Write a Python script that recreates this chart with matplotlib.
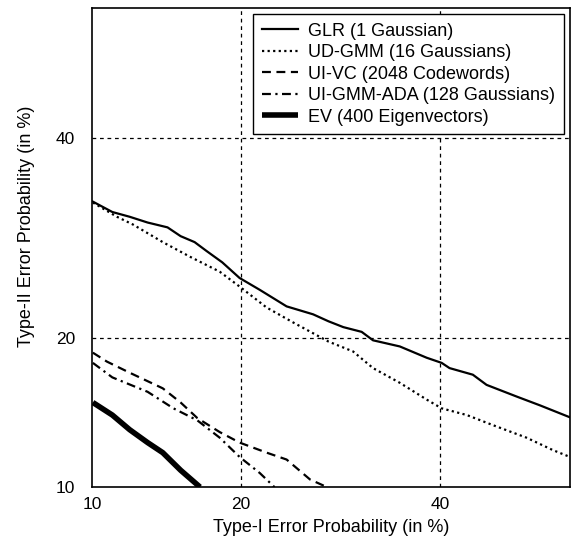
import math
import numpy as np
import matplotlib
matplotlib.use("Agg")
import matplotlib.pyplot as plt

# ---- data (percent) ----
glr_x = [10.05, 11.1, 12.1, 13.2, 14.5, 15.4, 16.4, 17.3, 18.5, 19.9, 21.6, 24.0, 26.5, 28.0,
         29.5, 31.4, 32.6, 35.5, 38.5, 40.2, 41.1, 43.8, 45.4, 49.0, 51.7, 55.2]
glr_y = [33.0, 31.9, 31.4, 30.8, 30.3, 29.4, 28.8, 27.9, 26.8, 25.3, 24.2, 22.7, 22.0, 21.4,
         20.9, 20.5, 19.8, 19.3, 18.4, 18.0, 17.6, 17.1, 16.35, 15.5, 14.9, 14.1]

udgmm_x = [10.05, 11.36, 12.29, 14.18, 16.06, 18.3, 19.9, 22.2, 24.6, 28.0, 30.5, 32.6, 35.5,
           38.5, 40.2, 43.1, 46.1, 50.1, 53.2, 55.2]
udgmm_y = [32.9, 31.4, 30.6, 28.8, 27.35, 25.9, 24.5, 22.6, 21.3, 19.7, 18.9, 17.6, 16.5,
           15.3, 14.7, 14.25, 13.6, 12.8, 12.05, 11.65]

uivc_x = [10.05, 10.8, 12.1, 14.18, 15.4, 16.6, 18.3, 19.9, 22.2, 24.0, 26.2, 27.85]
uivc_y = [18.8, 18.1, 17.25, 16.1, 15.1, 14.05, 13.15, 12.5, 11.9, 11.5, 10.4, 10.0]

uigmm_x = [10.05, 11.1, 13.2, 14.9, 16.6, 18.3, 19.9, 21.6, 22.9]
uigmm_y = [18.0, 16.9, 15.85, 14.7, 13.9, 12.8, 11.65, 10.75, 10.0]

ev_x = [10.05, 11.1, 12.1, 13.2, 14.18, 15.4, 16.8]
ev_y = [15.1, 14.25, 13.3, 12.5, 11.9, 10.9, 10.0]

labels = ["GLR (1 Gaussian)", "UD-GMM (16 Gaussians)", "UI-VC (2048 Codewords)",
          "UI-GMM-ADA (128 Gaussians)", "EV (400 Eigenvectors)"]
ticks = [10, 20, 40]

# ---- probit scale ----
_a = [-3.969683028665376e+01, 2.209460984245205e+02, -2.759285104469687e+02,
      1.383577518672690e+02, -3.066479806614716e+01, 2.506628277459239e+00]
_b = [-5.447609879822406e+01, 1.615858368580409e+02, -1.556989798598866e+02,
      6.680131188771972e+01, -1.328068155288572e+01]
_c = [-7.784894002430293e-03, -3.223964580411365e-01, -2.400758277161838e+00,
      -2.549732539343734e+00, 4.374664141464968e+00, 2.938163982698783e+00]
_d = [7.784695709041462e-03, 3.224671290700398e-01, 2.445134137142996e+00,
      3.754408661907416e+00]


def _ppf(p):
    p = min(max(p, 1e-12), 1 - 1e-12)
    pl = 0.02425
    if p < pl:
        q = math.sqrt(-2 * math.log(p))
        return (((((_c[0]*q+_c[1])*q+_c[2])*q+_c[3])*q+_c[4])*q+_c[5]) / \
               ((((_d[0]*q+_d[1])*q+_d[2])*q+_d[3])*q+1)
    if p > 1 - pl:
        q = math.sqrt(-2 * math.log(1 - p))
        return -(((((_c[0]*q+_c[1])*q+_c[2])*q+_c[3])*q+_c[4])*q+_c[5]) / \
                ((((_d[0]*q+_d[1])*q+_d[2])*q+_d[3])*q+1)
    q = p - 0.5
    r = q * q
    return (((((_a[0]*r+_a[1])*r+_a[2])*r+_a[3])*r+_a[4])*r+_a[5])*q / \
           (((((_b[0]*r+_b[1])*r+_b[2])*r+_b[3])*r+_b[4])*r+1)


_vppf = np.vectorize(lambda v: _ppf(v / 100.0), otypes=[float])
_vcdf = np.vectorize(lambda z: 50.0 * (1 + math.erf(z / math.sqrt(2))), otypes=[float])


def fwd(v):
    return _vppf(np.asarray(v, dtype=float))


def inv(z):
    return _vcdf(np.asarray(z, dtype=float))


plt.rcParams['font.family'] = ['Liberation Sans', 'DejaVu Sans']

fig = plt.figure(figsize=(5.78, 5.40), dpi=100)
ax = fig.add_axes([0.159, 0.098, 0.827, 0.887])
ax.set_xscale('function', functions=(fwd, inv))
ax.set_yscale('function', functions=(fwd, inv))

ax.plot(glr_x, glr_y, color='black', lw=1.6, ls='-', label=labels[0])
ax.plot(udgmm_x, udgmm_y, color='black', lw=1.6, ls=(0, (1, 1.5)), label=labels[1])
ax.plot(uivc_x, uivc_y, color='black', lw=1.6, ls=(0, (4, 2.5)), label=labels[2])
ax.plot(uigmm_x, uigmm_y, color='black', lw=1.6, ls=(0, (4, 2, 1, 2)), label=labels[3])
ax.plot(ev_x, ev_y, color='black', lw=4.0, ls='-', solid_capstyle='butt', label=labels[4])

ax.set_xlim(10, 55.2)
ax.set_ylim(10, 55.2)
ax.set_xticks(ticks)
ax.set_yticks(ticks)
ax.set_xticklabels([str(t) for t in ticks])
ax.set_yticklabels([str(t) for t in ticks])
ax.xaxis.set_minor_locator(matplotlib.ticker.NullLocator())
ax.yaxis.set_minor_locator(matplotlib.ticker.NullLocator())
ax.tick_params(length=0, labelsize=12.5)
ax.tick_params(axis='x', pad=7)
ax.tick_params(axis='y', pad=12)

for t in ticks[1:]:
    ax.axvline(t, color='black', lw=0.9, ls=(0, (3, 3)), zorder=0.5)
    ax.axhline(t, color='black', lw=0.9, ls=(0, (3, 3)), zorder=0.5)

for s in ax.spines.values():
    s.set_linewidth(1.2)

ax.set_xlabel("Type-I Error Probability (in %)", fontsize=13, labelpad=5)
ax.set_ylabel("Type-II Error Probability (in %)", fontsize=13)
ax.yaxis.set_label_coords(-0.12, 0.545)

leg = ax.legend(loc='upper right', fontsize=13, frameon=True, fancybox=False,
                edgecolor='black', framealpha=1, borderpad=0.45, handlelength=2.0,
                handletextpad=0.6, labelspacing=0.25, borderaxespad=0.35)
leg.get_frame().set_linewidth(1.0)

fig.savefig("out.png", dpi=100)
